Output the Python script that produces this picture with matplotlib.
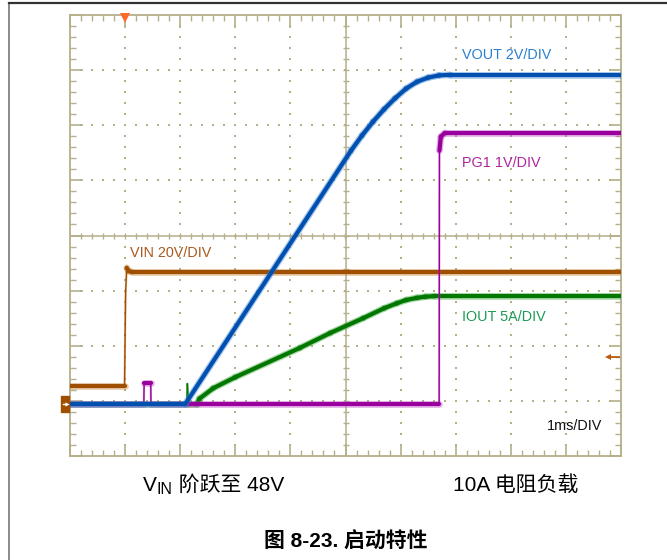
import numpy as np
import matplotlib
matplotlib.use("Agg")
import matplotlib.pyplot as plt
from matplotlib.collections import LineCollection
from matplotlib.patches import Rectangle
from matplotlib.lines import Line2D

FAM = ['Liberation Sans', 'Noto Sans CJK SC', 'DejaVu Sans']
plt.rcParams['font.family'] = FAM

# ---- scope settings ----
time_per_div = 1.0          # ms/div
gnd_div = 0.94              # channel ground level, divisions above the bottom edge
vin_scale = 20.0            # V/div
vout_scale = 2.0            # V/div
pg_scale = 1.0              # V/div
iout_scale = 5.0            # A/div
trig_level_v = 17.0         # VIN trigger level (V)

# ---- captured waveforms (time in ms relative to trigger) ----
vin_t = [-1.0, -0.01, 0.0, 0.01, 0.03, 0.06, 0.12, 9.0]
vin_v = [6.6, 6.6, 25.0, 41.0, 49.5, 48.3, 48.0, 48.0]

vout_t = [-1.0, 1.09, 4.1, 4.3, 4.5, 4.7, 4.9, 5.1, 5.3, 5.5, 5.7, 5.9, 9.0]
vout_v = [0.0, 0.0, 9.2, 9.75, 10.25, 10.7, 11.1, 11.45, 11.7, 11.85, 11.93, 11.95, 11.95]

pg_t = [-1.0, 0.34, 0.345, 0.465, 0.47, 5.70, 5.705, 5.73, 5.8, 9.0]
pg_v = [0.0, 0.0, 0.38, 0.38, 0.0, 0.0, 4.6, 4.85, 4.92, 4.92]

iout_t = [-1.0, 1.12, 1.13, 1.15, 1.30, 1.35, 1.6, 2.0, 3.17, 3.72, 4.32, 4.7,
          4.93, 5.1, 5.3, 5.45, 5.6, 9.0]
iout_a = [0.0, 0.0, 1.85, 0.0, 0.0, 0.5, 1.45, 2.45, 5.1, 6.45, 7.8, 8.7,
          9.15, 9.45, 9.65, 9.75, 9.8, 9.8]

W, H = 667, 560
GRID = '#b5af8a'

fig = plt.figure(figsize=(W / 100, H / 100), dpi=100)
fig.patch.set_facecolor('white')

# page frame lines
fig.add_artist(Line2D([9 / W, 9 / W], [0, 1 - 3 / H], color='#777777', lw=1.2))
fig.add_artist(Line2D([9 / W, 1], [1 - 3 / H, 1 - 3 / H], color='#333333', lw=1.6))

ax = fig.add_axes([70 / W, (H - 456) / H, 551 / W, 441 / H])
ax.set_xlim(-1, 9)
ax.set_ylim(0, 8)
for s in ax.spines.values():
    s.set_color(GRID)
    s.set_linewidth(1.3)

ax.set_xticks(np.arange(-1, 9.01, 1))
ax.set_xticks(np.arange(-1, 9.01, 0.2), minor=True)
ax.set_yticks(np.arange(0, 8.01, 1))
ax.set_yticks(np.arange(0, 8.01, 0.2), minor=True)
ax.tick_params(which='both', direction='in', top=True, right=True, colors=GRID,
               labelbottom=False, labelleft=False)
ax.tick_params(which='major', length=9, width=1.2)
ax.tick_params(which='minor', length=4, width=1.0)

# dotted graticule
dots_y = np.arange(0.2, 7.9, 0.2)
dots_x = np.arange(-0.8, 8.9, 0.2)
for xv in range(0, 9):
    if xv == 4:
        continue
    ax.plot(np.full_like(dots_y, xv), dots_y, ls='none', marker='s', ms=1.6,
            color=GRID, mew=0, zorder=1)
for yv in range(1, 8):
    if yv == 4:
        continue
    ax.plot(dots_x, np.full_like(dots_x, yv), ls='none', marker='s', ms=1.6,
            color=GRID, mew=0, zorder=1)

# centre cross with tick marks
ax.axvline(4, color=GRID, lw=1.1, zorder=1)
ax.axhline(4, color=GRID, lw=1.1, zorder=1)
ax.plot(dots_x, np.full_like(dots_x, 4), ls='none', marker='|', ms=5, mew=1.0,
        color=GRID, zorder=1)
ax.plot(np.full_like(dots_y, 4), dots_y, ls='none', marker='_', ms=5, mew=1.0,
        color=GRID, zorder=1)


def draw_trace(t, vals, scale, core, halo, z):
    x = np.asarray(t, float)
    y = gnd_div + np.asarray(vals, float) / scale
    segs, lw_core, lw_halo = [], [], []
    for i in range(len(x) - 1):
        segs.append([(x[i], y[i]), (x[i + 1], y[i + 1])])
        steep = abs(y[i + 1] - y[i]) > 15 * max(abs(x[i + 1] - x[i]), 1e-9)
        lw_core.append(1.0 if steep else 3.0)
        lw_halo.append(1.6 if steep else 4.8)
    ax.add_collection(LineCollection(segs, colors=halo, linewidths=lw_halo,
                                     alpha=0.45, capstyle='round',
                                     joinstyle='round', zorder=z))
    ax.add_collection(LineCollection(segs, colors=core, linewidths=lw_core,
                                     capstyle='round', joinstyle='round',
                                     zorder=z + 0.5))


draw_trace(vin_t, vin_v, vin_scale, '#a04f00', '#c8883c', 3)
draw_trace(iout_t, iout_a, iout_scale, '#007800', '#40a840', 4)
draw_trace(pg_t, pg_v, pg_scale, '#9a009e', '#c050c8', 5)
draw_trace(vout_t, vout_v, vout_scale, '#0050b0', '#3f85d6', 6)

# channel labels
lbl = dict(fontsize=10.4, ha='left', va='center', family=FAM)
ax.text(6.11, 7.28, 'VOUT 2V/DIV', color='#2a80d0', **lbl)
ax.text(6.11, 5.32, 'PG1 1V/DIV', color='#b0259f', **lbl)
ax.text(6.11, 2.52, 'IOUT 5A/DIV', color='#1f9a55', **lbl)
ax.text(0.09, 3.68, 'VIN 20V/DIV', color='#a85a20', **lbl)
ax.text(7.66, 0.54, '1ms/DIV', color='#111111', **lbl)

# ground marker (left) and trigger level arrow (right)
ytr = ax.get_yaxis_transform()
ax.add_patch(Rectangle((-9 / 551, gnd_div - 0.14), 8 / 551, 0.28, transform=ytr,
                       color='#a04f00', clip_on=False, zorder=7))
ax.plot([-7 / 551, -3 / 551], [gnd_div, gnd_div], transform=ytr, color='white',
        lw=1.0, clip_on=False, zorder=8)
ax.plot([-3 / 551], [gnd_div], transform=ytr, marker='>', ms=3, color='white',
        mew=0, clip_on=False, zorder=8)
trig_div = gnd_div + trig_level_v / vin_scale
ax.plot([0.977, 0.997], [trig_div, trig_div], transform=ytr, color='#b85a10',
        lw=1.3, zorder=7)
ax.plot([0.977], [trig_div], transform=ytr, marker='<', ms=5, color='#b85a10',
        mew=0, zorder=7)

# trigger position marker
ax.plot([0.0], [7.95], marker='v', ms=7, color='#ff6a2a', mew=0, clip_on=False,
        zorder=8)

# annotations beneath the screen
base = 1 - 491 / H
fig.canvas.draw()
r = fig.canvas.get_renderer()
tv = fig.text(143 / W, base, 'V', fontsize=15, family=FAM, va='baseline')
bb = tv.get_window_extent(r)
ts = fig.text(bb.x1 / W, base - 3 / H, 'IN', fontsize=11.5, family=FAM, va='baseline')
bb2 = ts.get_window_extent(r)
fig.text(bb2.x1 / W, base, ' 阶跃至 48V', fontsize=15, family=FAM, va='baseline')
fig.text(453 / W, base, '10A 电阻负载', fontsize=15, family=FAM, va='baseline')

fig.text(346 / W, 1 - 548 / H, '图 8-23. 启动特性', fontsize=15, fontweight='bold',
         family=FAM, ha='center', va='baseline')

fig.savefig('out.png', dpi=100)
